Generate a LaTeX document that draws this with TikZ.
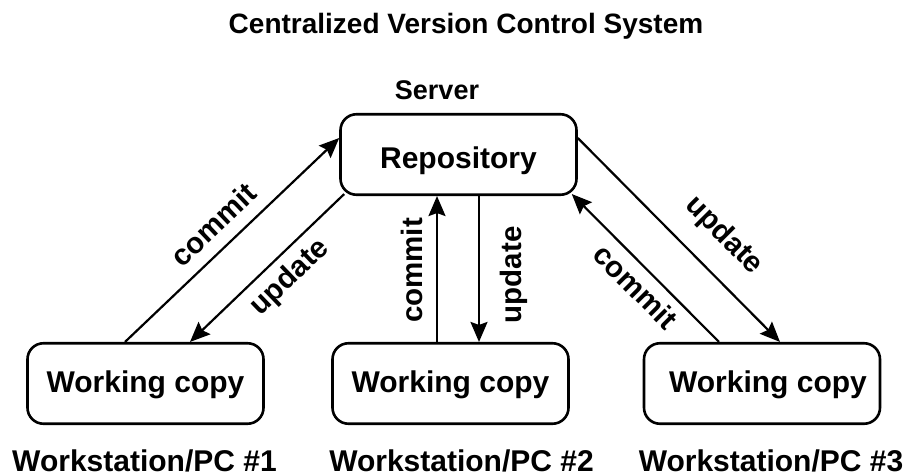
\documentclass[tikz,border=0pt]{standalone}
\usepackage{fontspec}
\setmainfont{Liberation Sans}
\usetikzlibrary{arrows.meta}
\begin{document}
\begin{tikzpicture}[x=1pt,y=-1pt,
  >={Stealth[length=20pt,width=17pt,inset=3pt]},
  box/.style={draw, line width=2.6pt, rounded corners=16pt, minimum width=236pt,
    minimum height=80.5pt, inner sep=0pt, font=\fontsize{30}{36}\selectfont\bfseries,
    text height=22pt, text depth=5pt},
  heading/.style={inner sep=0pt, anchor=base, font=\fontsize{30}{36}\selectfont\bfseries},
  lbl/.style={inner sep=0pt, font=\fontsize{29.5}{34}\selectfont\bfseries},
  arr/.style={line width=2.2pt}]
\useasboundingbox (0,0) rectangle (907,476);

\node[heading, font=\fontsize{28}{34}\selectfont\bfseries] (title) at (466,34) {Centralized Version Control System};
\node[heading, font=\fontsize{27}{32}\selectfont\bfseries] (server) at (437,100) {Server};

\node[box, text height=30pt, text depth=3pt] (repo) at (458.5,154.5) {Repository};
\node[box] (b1) at (145.5,383.5) {Working copy};
\node[box] (b2) at (450.5,383.5) {Working copy};
\node[box] (b3) at (762,383.5) {\hspace*{12pt}Working copy};

\node[heading] (ws1) at (144.5,471.5) {Workstation/PC \#1};
\node[heading] (ws2) at (461.5,471.5) {Workstation/PC \#2};
\node[heading] (ws3) at (771,471.5) {Workstation/PC \#3};

% left pair
\draw[arr,->] ([xshift=-20.5pt]b1.north) -- ([yshift=16.5pt]repo.west)
  node[lbl, pos=0.49, sloped, above=12pt] {commit};
\draw[arr,<-] ([xshift=44.5pt]b1.north) -- ([shift={(5pt,2pt)}]repo.south west)
  node[lbl, pos=0.546, sloped, below=8pt] {update};

% middle pair
\draw[arr,->] ([xshift=-13.5pt]b2.north) -- ([xshift=-21.5pt]repo.south)
  node[lbl, pos=0.49, sloped, allow upside down, above=13pt] {commit};
\draw[arr,<-] ([xshift=28.5pt]b2.north) -- ([xshift=20.5pt]repo.south)
  node[lbl, pos=0.46, sloped, allow upside down, below=20pt] {update};

% right pair
\draw[arr,<-] ([shift={(-6pt,2pt)}]repo.south east) -- ([xshift=-43pt]b3.north)
  node[lbl, pos=0.53, sloped, below=8pt] {commit};
\draw[arr,->] ([yshift=16.5pt]repo.east) -- ([xshift=18pt]b3.north)
  node[lbl, pos=0.60, sloped, above=20pt] {update};
\end{tikzpicture}
\end{document}
